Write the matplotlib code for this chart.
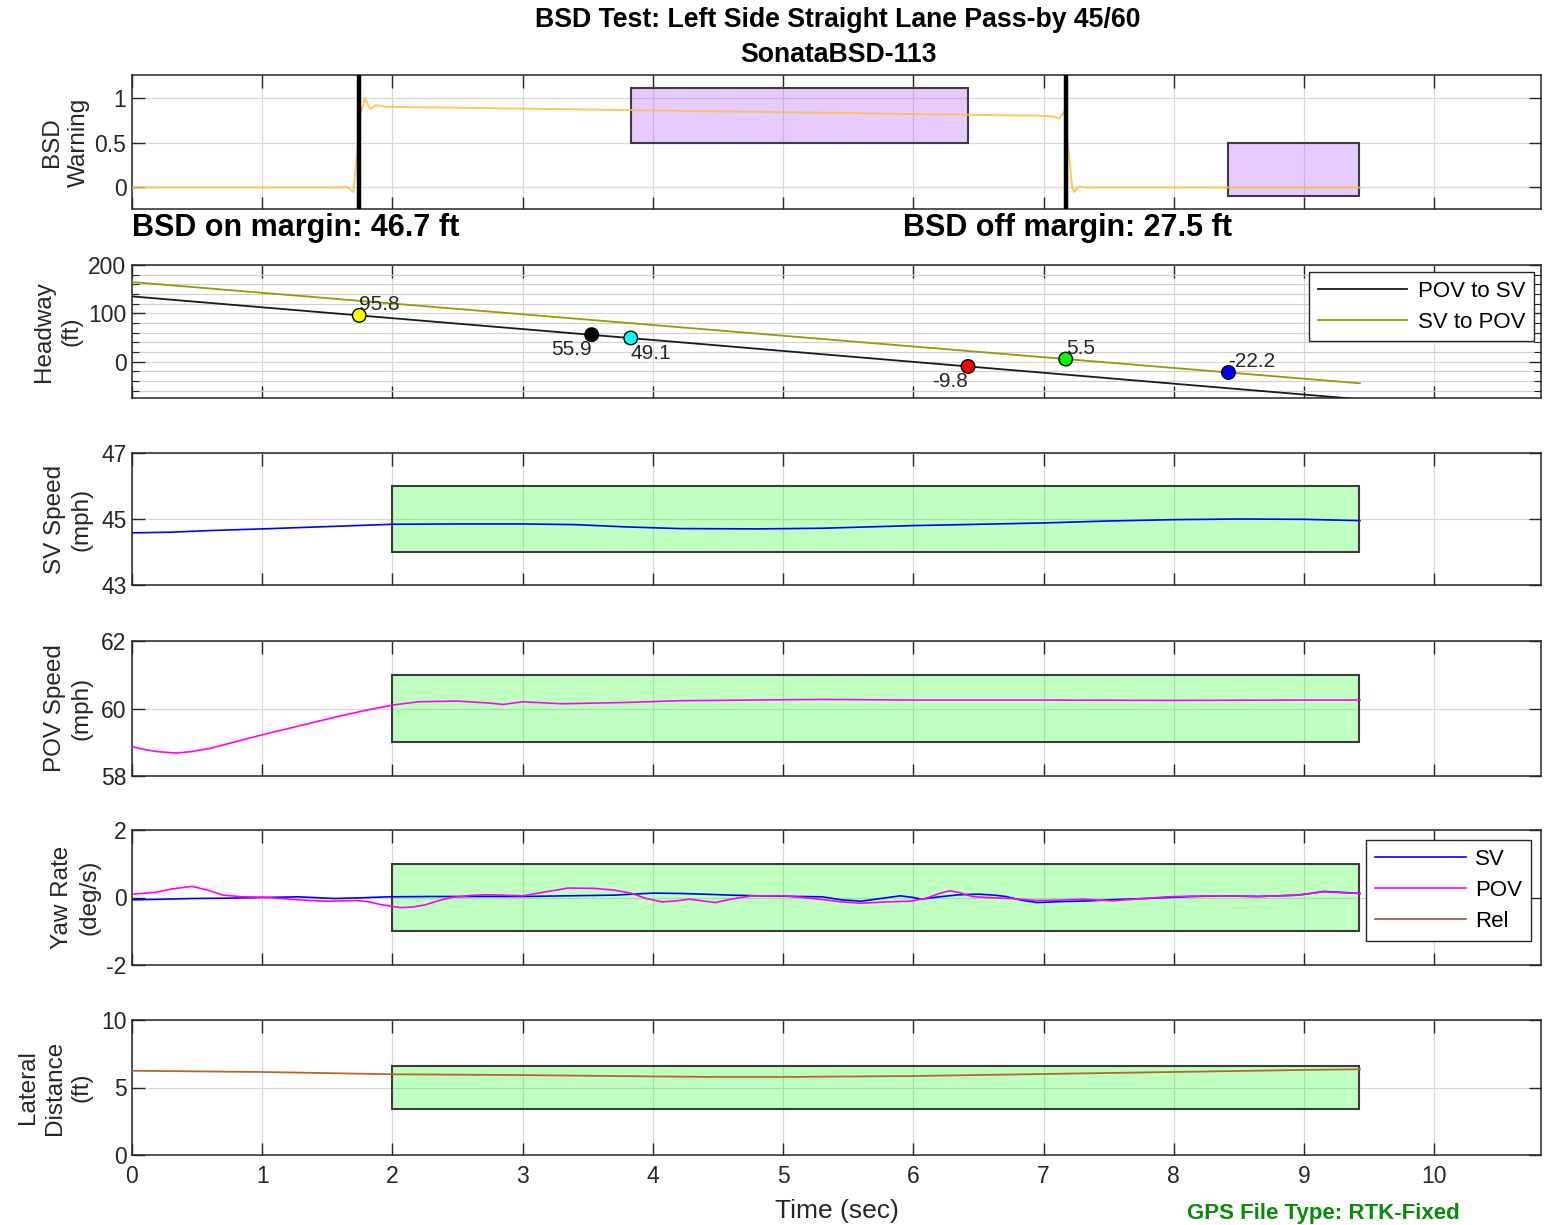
import matplotlib
matplotlib.use("Agg")
import matplotlib.pyplot as plt
from matplotlib.patches import Rectangle
from matplotlib.ticker import MultipleLocator

plt.rcParams['font.family'] = ['Liberation Sans', 'DejaVu Sans']
plt.rcParams['axes.unicode_minus'] = False

# ---------------- data ----------------
title_main = "BSD Test: Left Side Straight Lane Pass-by 45/60"
title_sub = "SonataBSD-113"

# BSD warning signal
t_warn = [0, 1.60, 1.65, 1.70, 1.72, 1.75, 1.79, 1.83, 1.87, 1.95, 3.0, 4.0, 5.0,
          6.0, 7.0, 7.08, 7.12, 7.16, 7.20, 7.22, 7.235, 7.27, 7.32, 8.0, 9.0, 9.43]
warn = [0, 0, 0.01, -0.05, 0.25, 0.8, 1.0, 0.87, 0.92, 0.9, 0.88, 0.86, 0.84,
        0.82, 0.80, 0.79, 0.77, 0.85, 0.3, 0.0, -0.05, 0.01, 0, 0, 0, 0]
bsd_on_time = 1.745
bsd_off_time = 7.17
bsd_on_margin = 46.7
bsd_off_margin = 27.5
# warning windows: (t_start, t_end, y_low, y_high)
warn_windows = [(3.83, 6.42, 0.5, 1.11), (8.42, 9.42, -0.1, 0.5)]

# headway
t_head = [0, 1, 2, 3, 4, 5, 6, 7, 8, 9, 9.43]
pov_to_sv = [135.1, 112.5, 90.0, 67.5, 45.0, 22.3, -0.3, -22.8, -45.4, -67.9, -77.6]
sv_to_pov = [164.7, 142.5, 120.3, 98.1, 75.9, 53.7, 31.5, 9.3, -12.9, -35.1, -44.6]
event_t = [1.745, 3.53, 3.83, 6.42, 7.17, 8.42]
event_val = [95.8, 55.9, 49.1, -9.8, 5.5, -22.2]
event_colors = ['#FFFF00', '#000000', '#00FFFF', '#FF0000', '#00FF00', '#0000FF']

# SV speed (mph)
t_sv = [0, 0.3, 0.6, 1.0, 1.5, 2.0, 2.5, 3.0, 3.4, 3.8, 4.2, 4.8, 5.3, 6.0,
        6.5, 7.0, 7.5, 8.0, 8.5, 9.0, 9.43]
sv_speed = [44.58, 44.60, 44.65, 44.70, 44.77, 44.84, 44.85, 44.85, 44.83, 44.76,
            44.71, 44.70, 44.72, 44.80, 44.84, 44.88, 44.94, 44.98, 45.00, 44.99, 44.95]
sv_speed_band = (2.0, 9.42, 44.0, 46.0)

# POV speed (mph)
t_pov = [0, 0.1, 0.2, 0.34, 0.45, 0.6, 0.8, 1.0, 1.3, 1.6, 1.8, 2.0, 2.2, 2.5,
         2.75, 2.85, 3.0, 3.3, 3.8, 4.2, 5.3, 6.0, 7.0, 8.0, 9.0, 9.43]
pov_speed = [58.87, 58.78, 58.72, 58.68, 58.72, 58.82, 59.02, 59.22, 59.50, 59.78,
             59.95, 60.10, 60.20, 60.22, 60.16, 60.12, 60.20, 60.14, 60.18, 60.23,
             60.27, 60.25, 60.25, 60.24, 60.25, 60.25]
pov_speed_band = (2.0, 9.42, 59.0, 61.0)

# yaw rate (deg/s)
t_yaw_sv = [0, 0.25, 0.46, 0.75, 1.0, 1.28, 1.55, 1.75, 1.97, 2.3, 2.69, 3.0, 3.35,
            3.7, 3.85, 4.0, 4.2, 4.38, 4.6, 4.8, 5.13, 5.3, 5.45, 5.6, 5.75, 5.9,
            6.0, 6.06, 6.2, 6.35, 6.5, 6.62, 6.71, 6.83, 6.95, 7.15, 7.35, 7.55,
            7.78, 7.95, 8.15, 8.36, 8.65, 8.95, 9.05, 9.15, 9.3, 9.43]
yaw_sv = [-0.07, -0.05, -0.03, -0.02, 0.0, 0.02, -0.03, -0.01, 0.02, 0.03, 0.03,
          0.03, 0.05, 0.07, 0.10, 0.13, 0.12, 0.10, 0.07, 0.05, 0.03, 0.02, -0.07,
          -0.11, -0.03, 0.05, 0.0, -0.05, 0.02, 0.08, 0.10, 0.07, 0.03, -0.08, -0.15,
          -0.12, -0.10, -0.06, -0.03, 0.0, 0.03, 0.05, 0.03, 0.07, 0.12, 0.18, 0.15,
          0.12]
t_yaw_pov = [0, 0.18, 0.3, 0.46, 0.58, 0.7, 0.85, 1.0, 1.15, 1.28, 1.48, 1.6, 1.73,
             1.82, 1.9, 2.0, 2.07, 2.16, 2.25, 2.35, 2.45, 2.6, 2.72, 2.85, 3.0,
             3.15, 3.35, 3.55, 3.7, 3.83, 3.95, 4.07, 4.18, 4.28, 4.38, 4.48, 4.6,
             4.76, 5.0, 5.15, 5.3, 5.45, 5.6, 5.8, 5.98, 6.1, 6.2, 6.28, 6.36, 6.45,
             6.6, 6.75, 6.95, 7.1, 7.3, 7.53, 7.7, 7.95, 8.15, 8.36, 8.65, 8.95,
             9.05, 9.15, 9.3, 9.43]
yaw_pov = [0.10, 0.15, 0.25, 0.33, 0.22, 0.07, 0.02, 0.01, -0.03, -0.07, -0.11,
           -0.10, -0.09, -0.13, -0.20, -0.27, -0.30, -0.28, -0.22, -0.10, 0.0, 0.06,
           0.08, 0.07, 0.05, 0.15, 0.28, 0.27, 0.22, 0.13, -0.03, -0.13, -0.10,
           -0.05, -0.10, -0.15, -0.05, 0.05, 0.05, 0.0, -0.06, -0.13, -0.17, -0.13,
           -0.11, -0.02, 0.12, 0.20, 0.14, 0.03, -0.01, -0.03, -0.09, -0.08, -0.05,
           -0.10, -0.05, 0.02, 0.04, 0.05, 0.03, 0.07, 0.12, 0.17, 0.14, 0.12]
yaw_band = (2.0, 9.42, -1.0, 1.0)

# lateral distance (ft)
t_lat = [0, 1, 2, 3, 4, 4.5, 5, 6, 7, 8, 9, 9.43]
lateral = [6.24, 6.15, 5.98, 5.92, 5.82, 5.78, 5.78, 5.85, 6.0, 6.15, 6.3, 6.35]
lateral_band = (2.0, 9.42, 3.4, 6.6)

gps_note = "GPS File Type: RTK-Fixed"

# ---------------- figure ----------------
W, H = 1551, 1225
fig = plt.figure(figsize=(W / 100, H / 100), dpi=100)

AX_L, AX_R = 132, 1541
DARK = '#262626'
GRID = '#d8d8d8'
TICK_FS = 16.5
LABEL_FS = 17.5


def add_panel(top, bottom):
    ax = fig.add_axes([AX_L / W, 1 - bottom / H, (AX_R - AX_L) / W, (bottom - top) / H])
    ax.set_xlim(0, 10.82)
    ax.set_xticks(range(0, 11))
    ax.tick_params(direction='in', top=True, right=True, length=9, width=1,
                   labelsize=TICK_FS, colors=DARK, pad=4)
    ax.tick_params(axis='x', pad=7)
    for s in ax.spines.values():
        s.set_color(DARK)
        s.set_linewidth(1.1)
    ax.grid(True, color=GRID, linewidth=0.9)
    ax.set_axisbelow(True)
    return ax


def add_band(ax, band, face, edge='#3c3c3c'):
    x0, x1, y0, y1 = band
    ax.add_patch(Rectangle((x0, y0), x1 - x0, y1 - y0, facecolor=face,
                           edgecolor=edge, linewidth=1.5, zorder=1))


def set_ylabel(ax, text, right_px):
    ax.set_ylabel(text, fontsize=LABEL_FS, color=DARK, linespacing=1.3)
    ax.yaxis.set_label_coords((right_px - AX_L) / (AX_R - AX_L), 0.5)


purple = (0.6, 0.2, 1.0, 0.25)
green = (0.0, 1.0, 0.0, 0.25)

# Panel 1: BSD warning
ax1 = add_panel(75, 209)
ax1.set_ylim(-0.24, 1.255)
ax1.set_yticks([0, 0.5, 1])
ax1.set_yticklabels(['0', '0.5', '1'])
ax1.set_xticklabels([])
for w in warn_windows:
    add_band(ax1, w, purple)
ax1.plot(t_warn, warn, color='#FFBF40', linewidth=1.4, alpha=0.85, zorder=3)
ax1.axvline(bsd_on_time, color='black', linewidth=3.2, zorder=4)
ax1.axvline(bsd_off_time, color='black', linewidth=3.2, zorder=4)
set_ylabel(ax1, "BSD\nWarning", 90)

fig.text(AX_L / W, 1 - 236 / H, f"BSD on margin: {bsd_on_margin} ft",
         fontsize=22, fontweight='bold', color='black', va='baseline', ha='left')
fig.text(903 / W, 1 - 236 / H, f"BSD off margin: {bsd_off_margin} ft",
         fontsize=22, fontweight='bold', color='black', va='baseline', ha='left')

# Panel 2: headway
ax2 = add_panel(265, 398)
ax2.set_ylim(-75, 200)
ax2.set_yticks([0, 100, 200])
ax2.yaxis.set_minor_locator(MultipleLocator(20))
ax2.tick_params(axis='y', which='minor', direction='in', left=True, right=True,
                length=5, width=0.8, colors=DARK)
ax2.grid(True, which='minor', axis='y', color='#d0d0d0', linewidth=0.9)
ax2.set_xticklabels([])
ax2.plot(t_head, pov_to_sv, color='#1a1a1a', linewidth=1.3, label='POV to SV', zorder=3)
ax2.plot(t_head, sv_to_pov, color='#999900', linewidth=1.3, label='SV to POV', zorder=3)
ax2.scatter(event_t, event_val, s=95, c=event_colors, edgecolors='black',
            linewidths=1.0, zorder=5)
label_align = [('left', 'bottom'), ('right', 'top'), ('left', 'top'),
               ('right', 'top'), ('left', 'bottom'), ('left', 'bottom')]
for tx, val, (ha, va) in zip(event_t, event_val, label_align):
    ax2.annotate(f"{val}", (tx, val), xytext=(0, 1 if va == 'bottom' else -4),
                 textcoords='offset points', ha=ha, va=va, fontsize=15,
                 color=DARK, zorder=6)
ax2.legend(loc='upper right', fontsize=16, handlelength=4.0, handletextpad=0.5,
           borderaxespad=0.3, borderpad=0.4, labelspacing=0.45, fancybox=False,
           framealpha=1, edgecolor=DARK)
set_ylabel(ax2, "Headway\n(ft)", 82)

# Panel 3: SV speed
ax3 = add_panel(453, 585)
ax3.set_ylim(43, 47)
ax3.set_yticks([43, 45, 47])
ax3.set_xticklabels([])
add_band(ax3, sv_speed_band, green)
ax3.plot(t_sv, sv_speed, color='#0000FF', linewidth=1.2, zorder=3)
set_ylabel(ax3, "SV Speed\n(mph)", 93)

# Panel 4: POV speed
ax4 = add_panel(641, 776)
ax4.set_ylim(58, 62)
ax4.set_yticks([58, 60, 62])
ax4.set_xticklabels([])
add_band(ax4, pov_speed_band, green)
ax4.plot(t_pov, pov_speed, color='#FF00FF', linewidth=1.2, zorder=3)
set_ylabel(ax4, "POV Speed\n(mph)", 93)

# Panel 5: yaw rate
ax5 = add_panel(830, 965)
ax5.set_ylim(-2, 2)
ax5.set_yticks([-2, 0, 2])
ax5.set_xticklabels([])
add_band(ax5, yaw_band, green)
ax5.plot(t_yaw_sv, yaw_sv, color='#0000FF', linewidth=1.2, label='SV', zorder=3)
ax5.plot(t_yaw_pov, yaw_pov, color='#FF00FF', linewidth=1.2, label='POV', zorder=3)
ax5.plot([], [], color='#A0522D', linewidth=1.2, label='Rel')
ax5.legend(loc='upper right', fontsize=16, handlelength=4.1, handletextpad=0.4,
           borderaxespad=0.45, borderpad=0.4, labelspacing=0.45, fancybox=False,
           framealpha=1, edgecolor=DARK)
set_ylabel(ax5, "Yaw Rate\n(deg/s)", 100)

# Panel 6: lateral distance
ax6 = add_panel(1020, 1155)
ax6.set_ylim(0, 10)
ax6.set_yticks([0, 5, 10])
add_band(ax6, lateral_band, green)
ax6.plot(t_lat, lateral, color='#B8652A', linewidth=1.3, zorder=3)
set_ylabel(ax6, "Lateral\nDistance\n(ft)", 93)
ax6.set_xlabel("Time (sec)", fontsize=19, color=DARK, labelpad=8)

# titles
fig.text(838 / W, 1 - 20 / H, title_main, fontsize=19.2, fontweight='bold',
         ha='center', va='center', color='black')
fig.text(838 / W, 1 - 55 / H, title_sub, fontsize=19.2, fontweight='bold',
         ha='center', va='center', color='black')

# footer note in the lower right corner
fig.text(1187 / W, 1 - 1219 / H, gps_note, fontsize=16, fontweight='bold',
         color='#0A8A0A', ha='left', va='baseline')

fig.savefig("out.png", dpi=100)
